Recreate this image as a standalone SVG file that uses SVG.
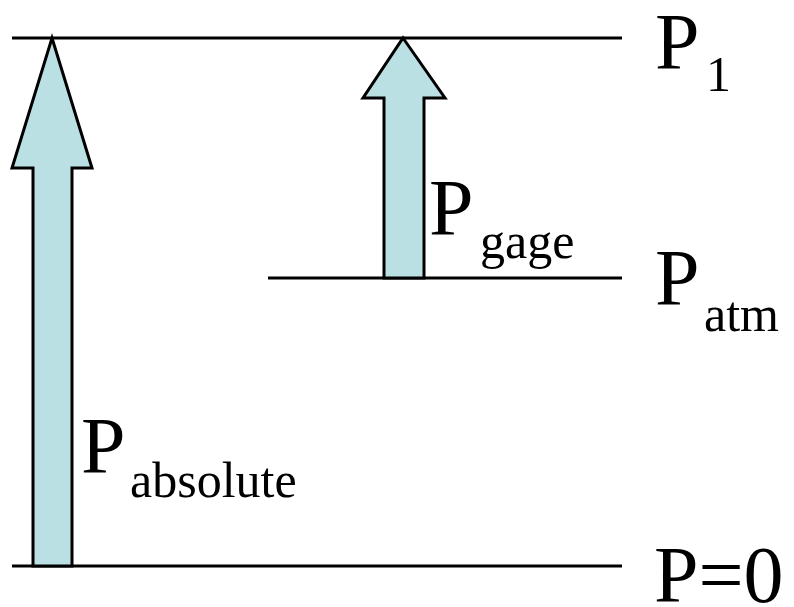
<svg xmlns="http://www.w3.org/2000/svg" width="794" height="607" viewBox="0 0 794 607">
<style>
.ln{stroke:#000;stroke-width:3;fill:none}
.ar{fill:#BBE0E3;stroke:#000;stroke-width:3;stroke-linejoin:miter}
text{fill:#000;font-family:"Times New Roman",Times,"Liberation Serif","Nimbus Roman","Nimbus Roman No9 L","Noto Serif","DejaVu Serif",FreeSerif,serif}
.big{font-size:80px}
.sub{font-size:50px}
</style>
<rect width="794" height="607" fill="#fff"/>
<g id="levels">
<line class="ln" x1="12" y1="38" x2="622" y2="38"/>
<line class="ln" x1="268" y1="278" x2="622" y2="278"/>
<line class="ln" x1="12" y1="566" x2="622" y2="566"/>
</g>
<g id="arrow-absolute">
<polygon class="ar" points="52,38 92,168 72,168 72,566 33,566 33,168 12,168"/>
</g>
<g id="arrow-gage">
<polygon class="ar" points="403,38 445,98 424,98 424,278 384,278 384,98 363,98"/>
</g>
<g id="label-p1"><text class="big" x="655" y="69">P</text><text class="sub" x="706" y="91">1</text></g>
<g id="label-patm"><text class="big" x="655" y="305">P</text><text class="sub" x="704" y="331">atm</text></g>
<g id="label-p0"><text class="big" x="654" y="602">P=0</text></g>
<g id="label-pabs"><text class="big" x="81" y="473">P</text><text class="sub" x="130" y="497">absolute</text></g>
<g id="label-pgage"><text class="big" x="429" y="235">P</text><text class="sub" x="480" y="258">gage</text></g>
</svg>
